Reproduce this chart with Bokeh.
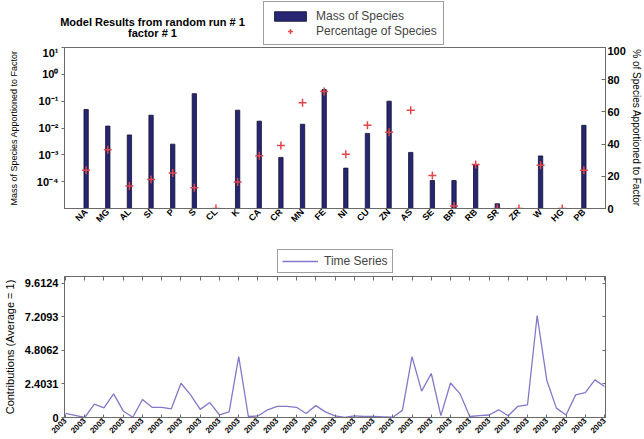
import math
import numpy as np
from bokeh.plotting import figure
from bokeh.models import (Range1d, FactorRange, LinearAxis, LinearScale, FixedTicker, Legend,
                          LegendItem, Label, ColumnDataSource)
from bokeh.layouts import column
from bokeh.embed import file_html
from bokeh.resources import INLINE

# ---------------- data ----------------
species = ["NA", "MG", "AL", "SI", "P", "S", "CL", "K", "CA", "CR", "MN", "FE",
           "NI", "CU", "ZN", "AS", "SE", "BR", "RB", "SR", "ZR", "W", "HG", "PB"]
mass = [0.049, 0.0118, 0.0055, 0.030, 0.0025, 0.19, 0.0, 0.046, 0.018, 0.0008,
        0.0138, 0.27, 0.00032, 0.0063, 0.10, 0.00123, 0.00011, 0.00011, 0.00042,
        0.000015, 0.0, 0.00091, 0.0, 0.0126]
percent = [23.8, 36.5, 13.9, 18.0, 22.0, 12.9, 0.0, 16.4, 32.8, 39.2, 65.7, 72.7,
           33.7, 51.7, 47.4, 61.0, 20.5, 1.6, 27.3, 0.0, 0.0, 26.8, 0.0, 23.8]
mass_ticks = [1e-4, 1e-3, 1e-2, 1e-1, 1e0, 1e1]
mass_tick_labels = ["10\u207b\u2074", "10\u207b\u00b3", "10\u207b\u00b2", "10\u207b\u00b9", "10\u2070", "10\u00b9"]
pct_ticks = [0, 20, 40, 60, 80, 100]

series = [0.29, 0.15, 0.0, 0.95, 0.69, 1.69, 0.47, 0.02, 1.29, 0.73,
          0.73, 0.62, 2.45, 1.62, 0.58, 1.07, 0.18, 0.40, 4.36, 0.07,
          0.11, 0.55, 0.80, 0.80, 0.73, 0.29, 0.85, 0.40, 0.11, 0.0,
          0.11, 0.07, 0.07, 0.05, 0.02, 0.51, 4.36, 1.89, 3.15, 0.13,
          2.47, 1.69, 0.07, 0.13, 0.18, 0.55, 0.13, 0.80, 0.91, 7.30,
          2.67, 0.67, 0.18, 1.62, 1.78, 2.69, 2.22]
contrib_ticks = [0, 2.4031, 4.8062, 7.2093, 9.6124]
contrib_tick_labels = ["0", "2.4031", "4.8062", "7.2093", "9.6124"]
sample_ticks = list(range(0, 57, 2))
sample_tick_labels = ["2003"] * len(sample_ticks)

title_lines = ["Model Results from random run # 1", "factor # 1"]

# ---------------- style ----------------
FONT = "Liberation Sans"
AX = "#6a6a6a"
BAR_FILL = "#262673"
BAR_LINE = "#10102e"
RED = "#e0474c"
LAV = "#8577c9"
W = 644
NAN = np.array([np.nan])


def style_axis(ax, size="11px"):
    ax.axis_line_color = AX
    ax.major_tick_line_color = AX
    ax.minor_tick_line_color = None
    ax.major_label_text_font = FONT
    ax.major_label_text_font_size = size
    ax.major_label_text_font_style = "bold"
    ax.major_label_text_color = "#000000"
    ax.axis_label_text_font = FONT
    ax.axis_label_text_font_size = "10px"
    ax.axis_label_text_font_style = "normal"
    ax.axis_label_text_color = "#000000"


def header(height):
    h = figure(width=W, height=height, x_range=Range1d(0, W), y_range=Range1d(0, height),
               x_axis_location=None, y_axis_location=None,
               output_backend="svg", toolbar_location=None,
               min_border=0, min_border_left=0, min_border_right=0,
               min_border_top=0, min_border_bottom=0)
    h.frame_align = False
    h.grid.visible = False
    h.outline_line_color = None
    return h


def legend_style():
    return dict(glyph_height=12, label_text_font=FONT, label_text_font_size="12px",
                label_standoff=6, spacing=0, margin=0,
                border_line_color="#404040", border_line_width=1,
                background_fill_color="white", background_fill_alpha=1.0)


# ---------------- header with title + legend of top chart ----------------
h1 = header(46)
for txt, yb in zip(title_lines, [25, 14]):
    h1.add_layout(Label(x=152, y=yb, text=txt, text_align="center", text_baseline="alphabetic",
                        text_font=FONT, text_font_size="11px", text_font_style="bold",
                        text_color="#000000"))
# legend keys share the styling of the chart's renderers (no visible data)
leg_bar = h1.vbar(x=NAN, top=NAN, width=0.2, fill_color=BAR_FILL, line_color=BAR_LINE, line_width=0.8)
leg_pct = h1.scatter(x=NAN, y=NAN, marker="cross", size=8, line_color=RED, line_width=1.5)
h1.add_layout(Legend(items=[LegendItem(label="Mass of Species", renderers=[leg_bar]),
                            LegendItem(label="Percentage of Species", renderers=[leg_pct])],
                     location=(263, 1), glyph_width=40, label_height=15, padding=6,
                     **legend_style()))

# ---------------- top chart ----------------
src = ColumnDataSource(dict(
    sp=species,
    top=[m if m > 0 else np.nan for m in mass],
    pct=percent,
))

p1 = figure(width=W, height=184,
            x_range=FactorRange(factors=species, range_padding=0.5, range_padding_units="absolute"),
            y_axis_type="log", y_range=Range1d(1e-5, 10),
            output_backend="svg", toolbar_location=None,
            min_border_left=63, min_border_right=38, min_border_top=1, min_border_bottom=21)
p1.extra_y_ranges = {"pct": Range1d(0, 100)}
p1.extra_y_scales = {"pct": LinearScale()}
p1.grid.visible = False
p1.outline_line_color = AX

p1.vbar(x="sp", top="top", bottom=1e-5, width=0.2, source=src,
        fill_color=BAR_FILL, line_color=BAR_LINE, line_width=0.8)
p1.scatter(x="sp", y="pct", y_range_name="pct", marker="cross", size=8,
           line_color=RED, line_width=1.5, source=src)

xa = p1.xaxis[0]
style_axis(xa, "9px")
xa.major_label_orientation = math.pi / 4
xa.major_tick_in = 0
xa.major_tick_out = 0
xa.major_label_standoff = 2

ya = p1.yaxis[0]
style_axis(ya)
ya.ticker = FixedTicker(ticks=mass_ticks, minor_ticks=[])
ya.major_label_overrides = dict(zip(mass_ticks, mass_tick_labels))
ya.axis_label = "Mass of Species Apportioned to Factor"
ya.axis_label_text_font_size = "9px"
ya.major_tick_out = 3
ya.major_tick_in = 0
ya.major_label_standoff = 3
ya.axis_label_standoff = 15

ra = LinearAxis(y_range_name="pct", ticker=FixedTicker(ticks=pct_ticks, minor_ticks=[]),
                axis_label="% of Species Apportioned to Factor")
style_axis(ra, "11px")
ra.major_tick_in = 4
ra.major_tick_out = 0
ra.major_label_standoff = 2
ra.axis_label_standoff = 2
p1.add_layout(ra, "right")

# ---------------- header with legend of bottom chart ----------------
h2 = header(43)
leg_ts = h2.line(x=NAN, y=NAN, line_color=LAV, line_width=1.3)
h2.add_layout(Legend(items=[LegendItem(label="Time Series", renderers=[leg_ts])],
                     location=(277, 0), glyph_width=36, label_height=14, padding=4,
                     **legend_style()))

# ---------------- bottom chart ----------------
p2 = figure(width=W, height=166,
            x_range=Range1d(-0.1, 56.1), y_range=Range1d(0, 10.09),
            output_backend="svg", toolbar_location=None,
            min_border_left=63, min_border_right=38, min_border_top=3, min_border_bottom=22)
p2.grid.visible = False
p2.outline_line_color = AX

p2.line(list(range(len(series))), series, line_color=LAV, line_width=1.3)

bx = p2.xaxis[0]
style_axis(bx, "8px")
bx.ticker = FixedTicker(ticks=sample_ticks, minor_ticks=[])
bx.major_label_overrides = dict(zip(sample_ticks, sample_tick_labels))
bx.major_label_orientation = math.pi / 4
bx.major_tick_in = 3
bx.major_tick_out = 0
bx.major_label_standoff = 2

by = p2.yaxis[0]
style_axis(by)
by.ticker = FixedTicker(ticks=contrib_ticks, minor_ticks=[])
by.major_label_overrides = dict(zip(contrib_ticks, contrib_tick_labels))
by.axis_label = "Contributions (Average = 1)"
by.axis_label_text_font_size = "11px"
by.major_tick_out = 3
by.major_tick_in = 0
by.major_label_standoff = 3
by.axis_label_standoff = 6

tx = LinearAxis(ticker=FixedTicker(ticks=sample_ticks, minor_ticks=[]))
style_axis(tx, "1px")
tx.major_label_overrides = {t: "" for t in sample_ticks}
tx.major_tick_in = 4
tx.major_tick_out = 0
tx.major_label_standoff = 0
p2.add_layout(tx, "above")

rx = LinearAxis(ticker=FixedTicker(ticks=contrib_ticks, minor_ticks=[]))
style_axis(rx, "1px")
rx.major_label_overrides = {t: "" for t in contrib_ticks}
rx.major_tick_in = 3
rx.major_tick_out = 0
rx.major_label_standoff = 0
p2.add_layout(rx, "right")

layout = column(h1, p1, h2, p2, spacing=0)
open("out.html", "w").write(file_html(layout, INLINE))
